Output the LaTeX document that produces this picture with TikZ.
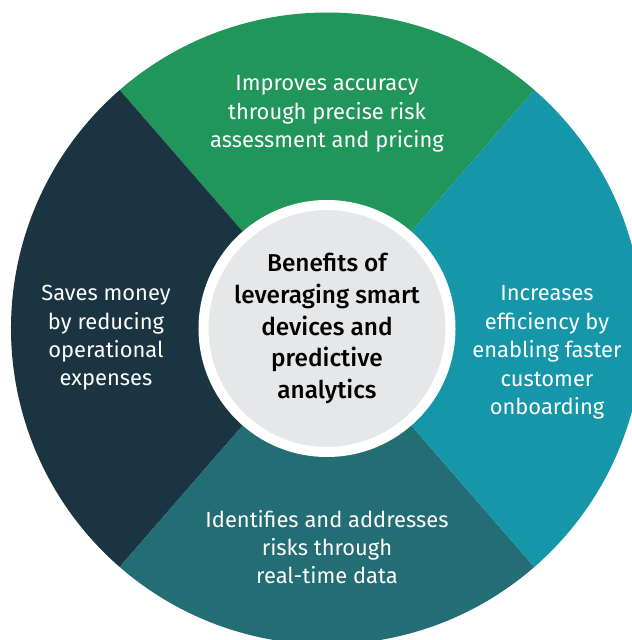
\documentclass[tikz,border=0pt]{standalone}
\usepackage{fontspec}
\setmainfont{Fira Sans}[BoldFont={* Medium}]
\definecolor{wheelgreen}{HTML}{21965B}
\definecolor{wheelteal}{HTML}{1596A9}
\definecolor{wheelpetrol}{HTML}{236E75}
\definecolor{wheelnavy}{HTML}{1A3442}
\definecolor{hubgray}{HTML}{E6E7E8}

\begin{document}
\begin{tikzpicture}[x=1bp,y=1bp,
                every node/.style={align=center, text=white, inner sep=0pt, font=\fontsize{22}{28.5}\selectfont},
                hub/.style={circle, fill=hubgray, draw=white, line width=10bp, minimum size=247bp,
                            text=black, font=\fontsize{24.5}{31.7}\selectfont\bfseries}]
            \clip (-327,-311.5) rectangle (305,328.5);
            \fill[wheelgreen] (0,0) -- (49:316) arc (49:131:316) -- cycle;
            \fill[wheelnavy] (0,0) -- (131:316) arc (131:229:316) -- cycle;
            \fill[wheelpetrol] (0,0) -- (229:316) arc (229:311:316) -- cycle;
            \fill[wheelteal] (0,0) -- (311:316) arc (311:409:316) -- cycle;

            \node[hub] (hub) at (0,0) {Benefits of\\leveraging smart\\devices and\\predictive\\analytics};

            \node (s1) at (0,214.5) {Improves accuracy\\through precise risk\\assessment and pricing};
            \node (s2) at (220,-24) {Increases\\efficiency by\\enabling faster\\customer\\onboarding};
            \node (s3) at (0,-218.5) {Identifies and addresses\\risks through\\real-time data};
            \node (s4) at (-221,-9.5) {Saves money\\by reducing\\operational\\expenses};
        \end{tikzpicture}
\end{document}
